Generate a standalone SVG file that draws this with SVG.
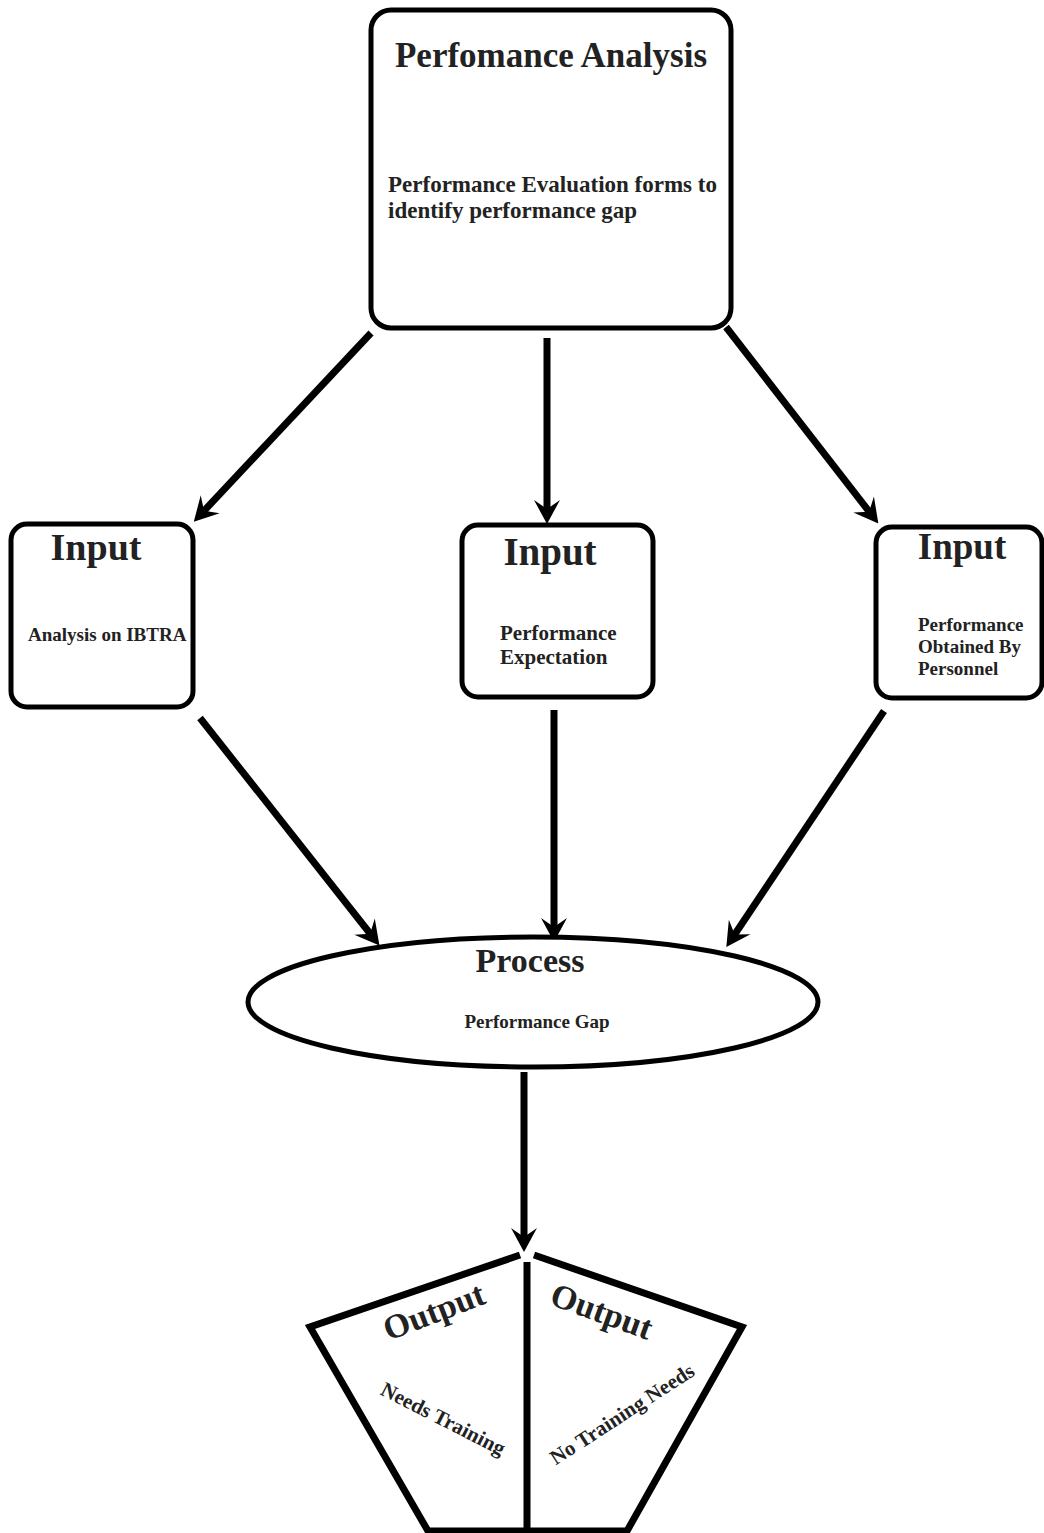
<svg xmlns="http://www.w3.org/2000/svg" width="1044" height="1533" viewBox="0 0 1044 1533">
<style>
  .box { fill: #ffffff; stroke: #000000; stroke-width: 5; }
  .pent { fill: none; stroke: #000000; stroke-width: 7; stroke-linejoin: miter; }
  .conn { stroke: #000000; stroke-width: 7; fill: none; }
  .t { font-family: "Liberation Serif", "Times New Roman", serif; font-weight: bold; fill: #222222; }
</style>
<defs>
  <marker id="arrow" viewBox="0 0 26 28" refX="14" refY="14" markerWidth="26" markerHeight="28" markerUnits="userSpaceOnUse" orient="auto">
    <path d="M26,14 L2,1 L11,14 L2,27 Z" fill="#000000"/>
  </marker>
</defs>
<rect width="1044" height="1533" fill="#ffffff"/>

<g id="connectors">
  <line class="conn" x1="371" y1="333" x2="202" y2="513" marker-end="url(#arrow)"/>
  <line class="conn" x1="547" y1="338" x2="547" y2="512" marker-end="url(#arrow)"/>
  <line class="conn" x1="726" y1="327" x2="871" y2="514" marker-end="url(#arrow)"/>
  <line class="conn" x1="200" y1="718" x2="372" y2="936" marker-end="url(#arrow)"/>
  <line class="conn" x1="554" y1="710" x2="554" y2="930" marker-end="url(#arrow)"/>
  <line class="conn" x1="884" y1="711" x2="733" y2="937" marker-end="url(#arrow)"/>
  <line class="conn" x1="524" y1="1072" x2="524" y2="1240" marker-end="url(#arrow)"/>
</g>

<g id="performance-analysis">
  <rect class="box" x="371" y="10" width="360" height="318" rx="20"/>
  <text class="t" x="551" y="67" font-size="35" text-anchor="middle">Perfomance Analysis</text>
  <text class="t" x="388" y="192" font-size="23">Performance Evaluation forms to</text>
  <text class="t" x="388" y="218" font-size="23">identify performance gap</text>
</g>

<g id="input-ibtra">
  <rect class="box" x="11" y="524" width="182" height="183" rx="16"/>
  <text class="t" x="96" y="560" font-size="38" text-anchor="middle">Input</text>
  <text class="t" x="28" y="641" font-size="19">Analysis on IBTRA</text>
</g>

<g id="input-expectation">
  <rect class="box" x="462" y="525" width="191" height="172" rx="16"/>
  <text class="t" x="550" y="565" font-size="39" text-anchor="middle">Input</text>
  <text class="t" x="500" y="640" font-size="21">Performance</text>
  <text class="t" x="500" y="664" font-size="21">Expectation</text>
</g>

<g id="input-personnel">
  <rect class="box" x="876" y="527" width="166" height="171" rx="16"/>
  <text class="t" x="962" y="559" font-size="37" text-anchor="middle">Input</text>
  <text class="t" x="918" y="631" font-size="19">Performance</text>
  <text class="t" x="918" y="653" font-size="19">Obtained By</text>
  <text class="t" x="918" y="675" font-size="19">Personnel</text>
</g>

<g id="process">
  <ellipse class="box" cx="533" cy="1002" rx="285" ry="65"/>
  <text class="t" x="530" y="972" font-size="34" text-anchor="middle">Process</text>
  <text class="t" x="537" y="1028" font-size="19" text-anchor="middle">Performance Gap</text>
</g>

<g id="output">
  <path class="pent" d="M520,1255 L310,1327 L428,1531 L527,1531 L627,1531 L742,1327 L534,1255"/>
  <line x1="527" y1="1262" x2="527" y2="1533" stroke="#000000" stroke-width="7"/>
  <text class="t" font-size="34" text-anchor="middle" transform="translate(438,1322) rotate(-21)">Output</text>
  <text class="t" font-size="34" text-anchor="middle" transform="translate(598,1322) rotate(20)">Output</text>
  <text class="t" font-size="21" text-anchor="middle" transform="translate(440,1425) rotate(27)">Needs Training</text>
  <text class="t" font-size="21" text-anchor="middle" transform="translate(626,1420) rotate(-33)">No Training Needs</text>
</g>
</svg>
